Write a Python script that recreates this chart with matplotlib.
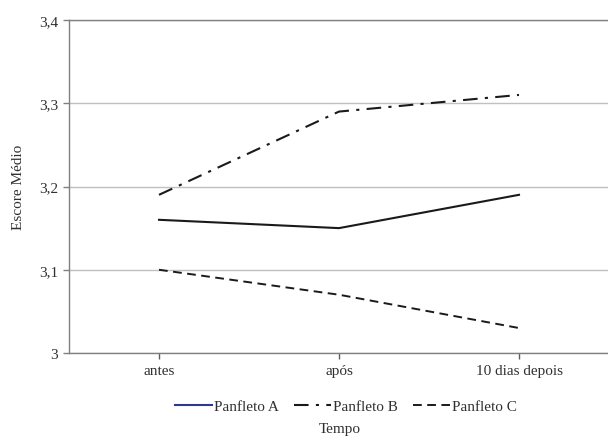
import matplotlib
matplotlib.use("Agg")
import matplotlib.pyplot as plt
from matplotlib.lines import Line2D

categories = ["antes", "após", "10 dias depois"]
panfleto_a = [3.16, 3.15, 3.19]
panfleto_b = [3.19, 3.29, 3.31]
panfleto_c = [3.10, 3.07, 3.03]
series_names = ["Panfleto A", "Panfleto B", "Panfleto C"]
y_ticks = [3.0, 3.1, 3.2, 3.3, 3.4]
y_tick_labels = ["3", "3,1", "3,2", "3,3", "3,4"]

plt.rcParams["font.family"] = ["Liberation Serif", "DejaVu Serif"]
fs = 11

fig = plt.figure(figsize=(6.08, 4.39), dpi=100)
ax = fig.add_axes([69 / 608, 1 - 354 / 439, 540 / 608, 333 / 439])

x = list(range(len(categories)))
dashdot = (0, (7, 3.5, 1.5, 3.5))
dashed = (0, (4.5, 2.8))
ax.plot(x, panfleto_a, color="#1a1a1a", lw=1.5, linestyle="-")
ax.plot(x, panfleto_b, color="#1a1a1a", lw=1.5, linestyle=dashdot)
ax.plot(x, panfleto_c, color="#1a1a1a", lw=1.4, linestyle=dashed)

ax.set_xlim(-0.5, 2.5)
ax.set_ylim(3.0, 3.4)
ax.set_xticks(x)
ax.set_xticklabels(categories)
ax.tick_params(axis="x", length=4, color="#606060", width=1, pad=4, labelsize=fs, labelcolor="#303030")
ax.set_yticks(y_ticks)
ax.set_yticklabels(y_tick_labels)
ax.tick_params(axis="y", length=4, color="#808080", width=1, pad=4, labelsize=fs, labelcolor="#303030")

ax.grid(axis="y", color="#c0c0c0", lw=1)
ax.set_axisbelow(True)
for side in ["left", "bottom", "top"]:
    ax.spines[side].set_color("#808080")
    ax.spines[side].set_linewidth(1)
ax.spines["right"].set_visible(False)

ax.set_ylabel("Escore Médio", fontsize=fs, labelpad=10, color="#303030")
fig.text(340 / 608, 1 - 430 / 439, "Tempo", fontsize=fs, color="#303030", ha="center", va="center")

handles = [
    Line2D([], [], color="#2b3990", lw=1.5, linestyle="-"),
    Line2D([], [], color="#1a1a1a", lw=1.5, linestyle=dashdot),
    Line2D([], [], color="#1a1a1a", lw=1.4, linestyle=dashed),
]
leg = fig.legend(handles, series_names, loc="center", bbox_to_anchor=(346 / 608, 1 - 407 / 439),
                 ncol=3, frameon=False, handlelength=2.4, handletextpad=0.15, columnspacing=1.0,
                 fontsize=fs)
for t in leg.get_texts():
    t.set_color("#303030")

fig.savefig("out.png", dpi=100)
